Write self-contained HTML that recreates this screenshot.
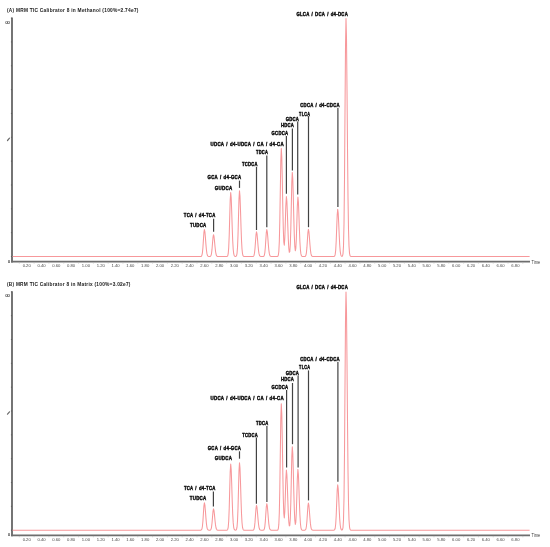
<!DOCTYPE html><html><head><meta charset="utf-8"><style>html,body{margin:0;padding:0;background:#fff;}svg{display:block;}text{font-family:"Liberation Sans",sans-serif;}</style></head><body>
<svg width="550" height="547" viewBox="0 0 550 547">
<defs><filter id="tb" x="-5%" y="-50%" width="110%" height="200%"><feGaussianBlur stdDeviation="0.2"/></filter></defs>
<rect width="550" height="547" fill="#fff"/>
<path d="M12.0 17.50 V262.50" fill="none" stroke="#6e6e6e" stroke-width="1.9"/>
<path d="M11.05 261.70 H530" fill="none" stroke="#6e6e6e" stroke-width="1.7"/>
<path fill="none" stroke="#f7989b" stroke-width="1.05" stroke-linejoin="round" d="M12.6 256.50 L199.40 256.50 L199.90 256.50 L200.40 256.49 L200.90 256.44 L201.40 256.20 L201.90 255.31 L202.40 252.85 L202.90 247.73 L203.40 240.12 L203.90 232.67 L204.40 229.50 L204.90 231.74 L205.40 237.42 L205.90 244.14 L206.40 249.77 L206.90 253.42 L207.40 255.31 L207.90 256.12 L208.40 256.40 L208.90 256.48 L209.40 256.49 L210.00 256.45 L210.50 256.26 L211.00 255.54 L211.50 253.55 L212.00 249.42 L212.50 243.28 L213.00 237.26 L213.50 234.70 L214.00 236.51 L214.50 241.10 L215.00 246.52 L215.50 251.06 L216.00 254.01 L216.50 255.54 L217.00 256.19 L217.50 256.42 L218.00 256.48 L218.50 256.50 L225.70 256.50 L226.20 256.50 L226.70 256.48 L227.20 256.36 L227.70 255.79 L228.20 253.69 L228.70 247.84 L229.20 235.72 L229.70 217.68 L230.20 200.02 L230.70 192.50 L231.20 197.82 L231.70 211.27 L232.20 227.20 L232.70 240.54 L233.20 249.19 L233.70 253.69 L234.20 255.59 L234.50 256.07 L235.00 256.39 L235.50 256.46 L236.00 256.35 L236.50 255.77 L237.00 253.61 L237.50 247.61 L238.00 235.17 L238.50 216.65 L239.00 198.52 L239.50 190.80 L240.00 196.26 L240.50 210.07 L241.00 226.42 L241.50 240.12 L242.00 249.00 L242.50 253.61 L243.00 255.57 L243.50 256.25 L244.00 256.44 L244.50 256.49 L251.50 256.50 L252.00 256.50 L252.50 256.49 L253.00 256.45 L253.50 256.23 L254.00 255.41 L254.50 253.16 L255.00 248.48 L255.50 241.52 L256.00 234.70 L256.50 231.80 L257.00 233.85 L257.50 239.05 L258.00 245.19 L258.50 250.34 L259.00 253.68 L259.50 255.41 L260.00 256.15 L260.50 256.40 L261.00 256.48 L261.50 256.50 L261.80 256.50 L262.30 256.50 L262.80 256.49 L263.30 256.44 L263.80 256.20 L264.30 255.31 L264.80 252.85 L265.30 247.73 L265.80 240.12 L266.30 232.67 L266.80 229.50 L267.30 231.74 L267.80 237.42 L268.30 244.14 L268.80 249.77 L269.30 253.42 L269.80 255.31 L270.30 256.12 L270.80 256.40 L271.30 256.48 L271.80 256.50 L276.30 256.50 L276.80 256.50 L277.30 256.46 L277.80 256.26 L278.30 255.30 L278.80 251.75 L279.30 241.87 L279.80 221.41 L280.30 190.93 L280.80 161.10 L281.30 148.40 L281.80 157.39 L282.30 180.10 L282.80 206.92 L283.30 229.05 L283.80 242.12 L284.30 245.14 L284.80 238.28 L285.30 223.32 L285.80 206.29 L286.40 196.49 L286.90 201.49 L287.30 211.21 L287.80 226.12 L288.30 239.34 L288.80 248.20 L289.30 252.33 L289.80 251.72 L290.30 244.81 L290.80 229.12 L291.30 205.48 L291.80 182.28 L292.30 172.40 L292.80 179.39 L293.30 197.07 L293.80 217.98 L294.30 235.44 L294.80 246.41 L295.30 250.78 L295.80 248.74 L296.30 239.63 L296.80 223.93 L297.30 206.79 L297.90 197.00 L298.40 201.95 L298.90 214.45 L299.40 229.26 L299.90 241.66 L300.40 249.71 L300.90 253.89 L301.40 255.65 L301.90 256.27 L302.40 256.45 L302.90 256.49 L303.40 256.50 L303.90 256.50 L304.40 256.49 L304.90 256.44 L305.40 256.20 L305.90 255.30 L306.40 252.82 L306.90 247.67 L307.40 240.00 L307.90 232.50 L308.40 229.30 L308.90 231.56 L309.40 237.28 L309.90 244.05 L310.40 249.72 L310.90 253.39 L311.40 255.30 L311.90 256.11 L312.40 256.39 L312.90 256.48 L313.40 256.50 L332.70 256.50 L333.20 256.50 L333.70 256.48 L334.20 256.40 L334.70 255.97 L335.20 254.42 L335.70 250.10 L336.20 241.14 L336.70 227.81 L337.20 214.76 L337.70 209.20 L338.20 213.13 L338.70 223.08 L339.20 234.84 L339.70 244.71 L340.20 251.10 L340.70 254.42 L341.00 255.42 L341.50 256.18 L342.00 256.34 L342.50 255.96 L343.00 253.85 L343.50 246.05 L344.00 224.30 L344.50 179.27 L345.00 112.21 L345.50 46.55 L346.00 18.60 L346.50 38.38 L347.00 88.39 L347.50 147.58 L348.00 197.18 L348.50 229.34 L349.00 246.05 L349.50 253.12 L350.00 255.58 L350.50 256.29 L351.00 256.46 L529.6 256.50"/>
<path d="M10.9 256.50 H11.9 M10.9 232.66 H11.9 M10.9 208.82 H11.9 M10.9 184.98 H11.9 M10.9 161.14 H11.9 M10.9 137.30 H11.9 M10.9 113.46 H11.9 M10.9 89.62 H11.9 M10.9 65.78 H11.9 M10.9 41.94 H11.9 M10.9 18.10 H11.9" stroke="#4a4a4a" stroke-width="0.6"/>
<path d="M7.5 140.50 L9.5 138.10" stroke="#6a6a6a" stroke-width="1.2" stroke-linecap="round"/>
<path d="M19.30 262.20 V263.60 M34.11 262.20 V263.60 M48.92 262.20 V263.60 M63.73 262.20 V263.60 M78.55 262.20 V263.60 M93.36 262.20 V263.60 M108.17 262.20 V263.60 M122.98 262.20 V263.60 M137.78 262.20 V263.60 M152.59 262.20 V263.60 M167.41 262.20 V263.60 M182.22 262.20 V263.60 M197.03 262.20 V263.60 M211.84 262.20 V263.60 M226.64 262.20 V263.60 M241.45 262.20 V263.60 M256.26 262.20 V263.60 M271.07 262.20 V263.60 M285.88 262.20 V263.60 M300.69 262.20 V263.60 M315.50 262.20 V263.60 M330.31 262.20 V263.60 M345.12 262.20 V263.60 M359.93 262.20 V263.60 M374.74 262.20 V263.60 M389.55 262.20 V263.60 M404.36 262.20 V263.60 M419.17 262.20 V263.60 M433.98 262.20 V263.60 M448.79 262.20 V263.60 M463.61 262.20 V263.60 M478.41 262.20 V263.60 M493.22 262.20 V263.60 M508.03 262.20 V263.60 M522.85 262.20 V263.60" stroke="#b8b8b8" stroke-width="0.6"/>
<path d="M213.60 218.80 V231.80" stroke="#424242" stroke-width="1.2"/>
<path d="M239.50 180.60 V187.90" stroke="#424242" stroke-width="1.2"/>
<path d="M256.50 166.90 V230.00" stroke="#424242" stroke-width="1.2"/>
<path d="M266.80 155.50 V227.30" stroke="#424242" stroke-width="1.2"/>
<path d="M286.40 136.00 V193.80" stroke="#424242" stroke-width="1.2"/>
<path d="M292.40 128.50 V170.60" stroke="#424242" stroke-width="1.2"/>
<path d="M297.70 121.50 V194.50" stroke="#424242" stroke-width="1.2"/>
<path d="M308.50 116.10 V227.20" stroke="#424242" stroke-width="1.2"/>
<path d="M337.90 108.10 V207.00" stroke="#424242" stroke-width="1.2"/>
<path d="M12.0 291.20 V536.20" fill="none" stroke="#6e6e6e" stroke-width="1.9"/>
<path d="M11.05 535.40 H530" fill="none" stroke="#6e6e6e" stroke-width="1.7"/>
<path fill="none" stroke="#f7989b" stroke-width="1.05" stroke-linejoin="round" d="M12.6 530.20 L199.40 530.20 L199.90 530.20 L200.40 530.19 L200.90 530.14 L201.40 529.90 L201.90 529.00 L202.40 526.49 L202.90 521.30 L203.40 513.58 L203.90 506.02 L204.40 502.80 L204.90 505.08 L205.40 510.84 L205.90 517.66 L206.40 523.37 L206.90 527.07 L207.40 529.00 L207.90 529.81 L208.40 530.09 L208.90 530.18 L209.40 530.19 L210.00 530.15 L210.50 529.96 L211.00 529.26 L211.50 527.32 L212.00 523.28 L212.50 517.28 L213.00 511.40 L213.50 508.90 L214.00 510.67 L214.50 515.15 L215.00 520.45 L215.50 524.89 L216.00 527.77 L216.50 529.26 L217.00 529.90 L217.50 530.12 L218.00 530.18 L218.50 530.20 L225.70 530.20 L226.20 530.20 L226.70 530.18 L227.20 530.06 L227.70 529.47 L228.20 527.30 L228.70 521.25 L229.20 508.74 L229.70 490.11 L230.20 471.87 L230.70 464.10 L231.20 469.60 L231.70 483.49 L232.20 499.94 L232.70 513.72 L233.20 522.65 L233.70 527.30 L234.20 529.26 L234.50 529.76 L235.00 530.09 L235.50 530.16 L236.00 530.05 L236.50 529.45 L237.00 527.24 L237.50 521.08 L238.00 508.32 L238.50 489.32 L239.00 470.72 L239.50 462.80 L240.00 468.40 L240.50 482.57 L241.00 499.34 L241.50 513.39 L242.00 522.51 L242.50 527.24 L243.00 529.24 L243.50 529.94 L244.00 530.14 L244.50 530.19 L251.50 530.20 L252.00 530.20 L252.50 530.19 L253.00 530.15 L253.50 529.92 L254.00 529.11 L254.50 526.84 L255.00 522.15 L255.50 515.16 L256.00 508.31 L256.50 505.40 L257.00 507.46 L257.50 512.68 L258.00 518.85 L258.50 524.02 L259.00 527.37 L259.50 529.11 L260.00 529.85 L260.50 530.10 L261.00 530.18 L261.50 530.20 L261.80 530.20 L262.30 530.20 L262.80 530.19 L263.30 530.14 L263.80 529.91 L264.30 529.04 L264.80 526.61 L265.30 521.60 L265.80 514.13 L266.30 506.81 L266.80 503.70 L267.30 505.90 L267.80 511.47 L268.30 518.07 L268.80 523.59 L269.30 527.17 L269.80 529.04 L270.30 529.82 L270.80 530.10 L271.30 530.18 L271.80 530.20 L276.30 530.20 L276.80 530.19 L277.30 530.16 L277.80 529.92 L278.30 528.80 L278.80 524.65 L279.30 513.09 L279.80 489.16 L280.30 453.53 L280.80 418.65 L281.30 403.80 L281.80 414.31 L282.30 440.87 L282.80 472.24 L283.30 498.19 L283.80 513.72 L284.30 518.02 L284.80 511.69 L285.30 496.89 L285.80 479.89 L286.40 470.08 L286.90 475.09 L287.30 484.83 L287.80 499.77 L288.30 513.01 L288.80 521.88 L289.30 526.03 L289.80 525.45 L290.30 518.59 L290.80 503.02 L291.30 479.54 L291.80 456.51 L292.30 446.70 L292.80 453.64 L293.30 471.19 L293.80 491.96 L294.30 509.29 L294.80 520.17 L295.30 524.46 L295.80 522.31 L296.30 512.97 L296.80 496.92 L297.30 479.40 L297.90 469.40 L298.40 474.45 L298.90 487.24 L299.40 502.36 L299.90 515.04 L300.40 523.26 L300.90 527.53 L301.40 529.34 L301.90 529.96 L302.40 530.15 L302.90 530.19 L303.40 530.20 L303.90 530.20 L304.40 530.19 L304.90 530.14 L305.40 529.90 L305.90 529.00 L306.40 526.52 L306.90 521.37 L307.40 513.70 L307.90 506.20 L308.40 503.00 L308.90 505.26 L309.40 510.98 L309.90 517.75 L310.40 523.42 L310.90 527.09 L311.40 529.00 L311.90 529.81 L312.40 530.09 L312.90 530.18 L313.40 530.20 L332.70 530.20 L333.20 530.20 L333.70 530.18 L334.20 530.10 L334.70 529.70 L335.20 528.21 L335.70 524.06 L336.20 515.46 L336.70 502.66 L337.20 490.13 L337.70 484.80 L338.20 488.57 L338.70 498.12 L339.20 509.41 L339.70 518.88 L340.20 525.02 L340.70 528.21 L341.00 529.16 L341.50 529.89 L342.00 530.05 L342.50 529.66 L343.00 527.55 L343.50 519.73 L344.00 497.96 L344.50 452.87 L345.00 385.72 L345.50 319.99 L346.00 292.00 L346.50 311.81 L347.00 361.88 L347.50 421.14 L348.00 470.80 L348.50 503.01 L349.00 519.73 L349.50 526.81 L350.00 529.28 L350.50 529.99 L351.00 530.16 L529.6 530.20"/>
<path d="M10.9 530.20 H11.9 M10.9 506.36 H11.9 M10.9 482.52 H11.9 M10.9 458.68 H11.9 M10.9 434.84 H11.9 M10.9 411.00 H11.9 M10.9 387.16 H11.9 M10.9 363.32 H11.9 M10.9 339.48 H11.9 M10.9 315.64 H11.9 M10.9 291.80 H11.9" stroke="#4a4a4a" stroke-width="0.6"/>
<path d="M7.5 414.20 L9.5 411.80" stroke="#6a6a6a" stroke-width="1.2" stroke-linecap="round"/>
<path d="M19.30 535.90 V537.30 M34.11 535.90 V537.30 M48.92 535.90 V537.30 M63.73 535.90 V537.30 M78.55 535.90 V537.30 M93.36 535.90 V537.30 M108.17 535.90 V537.30 M122.98 535.90 V537.30 M137.78 535.90 V537.30 M152.59 535.90 V537.30 M167.41 535.90 V537.30 M182.22 535.90 V537.30 M197.03 535.90 V537.30 M211.84 535.90 V537.30 M226.64 535.90 V537.30 M241.45 535.90 V537.30 M256.26 535.90 V537.30 M271.07 535.90 V537.30 M285.88 535.90 V537.30 M300.69 535.90 V537.30 M315.50 535.90 V537.30 M330.31 535.90 V537.30 M345.12 535.90 V537.30 M359.93 535.90 V537.30 M374.74 535.90 V537.30 M389.55 535.90 V537.30 M404.36 535.90 V537.30 M419.17 535.90 V537.30 M433.98 535.90 V537.30 M448.79 535.90 V537.30 M463.61 535.90 V537.30 M478.41 535.90 V537.30 M493.22 535.90 V537.30 M508.03 535.90 V537.30 M522.85 535.90 V537.30" stroke="#b8b8b8" stroke-width="0.6"/>
<path d="M213.40 491.50 V506.40" stroke="#424242" stroke-width="1.2"/>
<path d="M239.50 451.30 V458.70" stroke="#424242" stroke-width="1.2"/>
<path d="M256.40 437.60 V503.70" stroke="#424242" stroke-width="1.2"/>
<path d="M266.90 426.10 V502.00" stroke="#424242" stroke-width="1.2"/>
<path d="M286.60 390.00 V467.50" stroke="#424242" stroke-width="1.2"/>
<path d="M292.50 383.00 V444.20" stroke="#424242" stroke-width="1.2"/>
<path d="M298.10 375.60 V467.50" stroke="#424242" stroke-width="1.2"/>
<path d="M308.50 370.40 V500.40" stroke="#424242" stroke-width="1.2"/>
<path d="M337.90 361.90 V481.70" stroke="#424242" stroke-width="1.2"/>
<g filter="url(#tb)">
<text x="6.9" y="12.40" font-size="5.6" letter-spacing="0.3" font-weight="bold" fill="#1e1e1e" stroke="#1e1e1e" stroke-width="0.02" textLength="131.8" lengthAdjust="spacingAndGlyphs">(A) MRM TIC Calibrator 8 in Methanol (100%=2.74e7)</text>
<text x="7.5" y="23.60" font-size="3.8" fill="#444" stroke="#444" stroke-width="0.15" text-anchor="middle">00</text>
<text x="9" y="262.70" font-size="3.8" fill="#444" stroke="#444" stroke-width="0.15" text-anchor="middle">0</text>
<text x="26.71" y="267.00" font-size="4.2" fill="#4a4a4a" text-anchor="middle">0.20</text>
<text x="41.52" y="267.00" font-size="4.2" fill="#4a4a4a" text-anchor="middle">0.40</text>
<text x="56.33" y="267.00" font-size="4.2" fill="#4a4a4a" text-anchor="middle">0.60</text>
<text x="71.14" y="267.00" font-size="4.2" fill="#4a4a4a" text-anchor="middle">0.80</text>
<text x="85.95" y="267.00" font-size="4.2" fill="#4a4a4a" text-anchor="middle">1.00</text>
<text x="100.76" y="267.00" font-size="4.2" fill="#4a4a4a" text-anchor="middle">1.20</text>
<text x="115.57" y="267.00" font-size="4.2" fill="#4a4a4a" text-anchor="middle">1.40</text>
<text x="130.38" y="267.00" font-size="4.2" fill="#4a4a4a" text-anchor="middle">1.60</text>
<text x="145.19" y="267.00" font-size="4.2" fill="#4a4a4a" text-anchor="middle">1.80</text>
<text x="160.00" y="267.00" font-size="4.2" fill="#4a4a4a" text-anchor="middle">2.00</text>
<text x="174.81" y="267.00" font-size="4.2" fill="#4a4a4a" text-anchor="middle">2.20</text>
<text x="189.62" y="267.00" font-size="4.2" fill="#4a4a4a" text-anchor="middle">2.40</text>
<text x="204.43" y="267.00" font-size="4.2" fill="#4a4a4a" text-anchor="middle">2.60</text>
<text x="219.24" y="267.00" font-size="4.2" fill="#4a4a4a" text-anchor="middle">2.80</text>
<text x="234.05" y="267.00" font-size="4.2" fill="#4a4a4a" text-anchor="middle">3.00</text>
<text x="248.86" y="267.00" font-size="4.2" fill="#4a4a4a" text-anchor="middle">3.20</text>
<text x="263.67" y="267.00" font-size="4.2" fill="#4a4a4a" text-anchor="middle">3.40</text>
<text x="278.48" y="267.00" font-size="4.2" fill="#4a4a4a" text-anchor="middle">3.60</text>
<text x="293.29" y="267.00" font-size="4.2" fill="#4a4a4a" text-anchor="middle">3.80</text>
<text x="308.10" y="267.00" font-size="4.2" fill="#4a4a4a" text-anchor="middle">4.00</text>
<text x="322.91" y="267.00" font-size="4.2" fill="#4a4a4a" text-anchor="middle">4.20</text>
<text x="337.72" y="267.00" font-size="4.2" fill="#4a4a4a" text-anchor="middle">4.40</text>
<text x="352.53" y="267.00" font-size="4.2" fill="#4a4a4a" text-anchor="middle">4.60</text>
<text x="367.34" y="267.00" font-size="4.2" fill="#4a4a4a" text-anchor="middle">4.80</text>
<text x="382.15" y="267.00" font-size="4.2" fill="#4a4a4a" text-anchor="middle">5.00</text>
<text x="396.96" y="267.00" font-size="4.2" fill="#4a4a4a" text-anchor="middle">5.20</text>
<text x="411.77" y="267.00" font-size="4.2" fill="#4a4a4a" text-anchor="middle">5.40</text>
<text x="426.58" y="267.00" font-size="4.2" fill="#4a4a4a" text-anchor="middle">5.60</text>
<text x="441.39" y="267.00" font-size="4.2" fill="#4a4a4a" text-anchor="middle">5.80</text>
<text x="456.20" y="267.00" font-size="4.2" fill="#4a4a4a" text-anchor="middle">6.00</text>
<text x="471.01" y="267.00" font-size="4.2" fill="#4a4a4a" text-anchor="middle">6.20</text>
<text x="485.82" y="267.00" font-size="4.2" fill="#4a4a4a" text-anchor="middle">6.40</text>
<text x="500.63" y="267.00" font-size="4.2" fill="#4a4a4a" text-anchor="middle">6.60</text>
<text x="515.44" y="267.00" font-size="4.2" fill="#4a4a4a" text-anchor="middle">6.80</text>
<text x="531.6" y="263.70" font-size="4.5" fill="#3a3a3a" textLength="8.5" lengthAdjust="spacingAndGlyphs">Time</text>
<text x="206.50" y="226.90" font-size="5.8" word-spacing="0.9" letter-spacing="0.35" font-weight="bold" fill="#0a0a0a" stroke="#0a0a0a" stroke-width="0.45" text-anchor="end" textLength="16.50" lengthAdjust="spacingAndGlyphs">TUDCA</text>
<text x="215.50" y="217.20" font-size="5.8" word-spacing="0.9" letter-spacing="0.35" font-weight="bold" fill="#0a0a0a" stroke="#0a0a0a" stroke-width="0.45" text-anchor="end" textLength="31.70" lengthAdjust="spacingAndGlyphs">TCA / d4-TCA</text>
<text x="232.40" y="189.70" font-size="5.8" word-spacing="0.9" letter-spacing="0.35" font-weight="bold" fill="#0a0a0a" stroke="#0a0a0a" stroke-width="0.45" text-anchor="end" textLength="17.60" lengthAdjust="spacingAndGlyphs">GUDCA</text>
<text x="241.40" y="179.00" font-size="5.8" word-spacing="0.9" letter-spacing="0.35" font-weight="bold" fill="#0a0a0a" stroke="#0a0a0a" stroke-width="0.45" text-anchor="end" textLength="33.90" lengthAdjust="spacingAndGlyphs">GCA / d4-GCA</text>
<text x="257.70" y="165.90" font-size="5.8" word-spacing="0.9" letter-spacing="0.35" font-weight="bold" fill="#0a0a0a" stroke="#0a0a0a" stroke-width="0.45" text-anchor="end" textLength="15.60" lengthAdjust="spacingAndGlyphs">TCDCA</text>
<text x="268.00" y="154.40" font-size="5.8" word-spacing="0.9" letter-spacing="0.35" font-weight="bold" fill="#0a0a0a" stroke="#0a0a0a" stroke-width="0.45" text-anchor="end" textLength="12.00" lengthAdjust="spacingAndGlyphs">TDCA</text>
<text x="283.90" y="146.20" font-size="5.8" word-spacing="0.9" letter-spacing="0.35" font-weight="bold" fill="#0a0a0a" stroke="#0a0a0a" stroke-width="0.45" text-anchor="end" textLength="73.40" lengthAdjust="spacingAndGlyphs">UDCA / d4-UDCA / CA / d4-CA</text>
<text x="288.30" y="135.10" font-size="5.8" word-spacing="0.9" letter-spacing="0.35" font-weight="bold" fill="#0a0a0a" stroke="#0a0a0a" stroke-width="0.45" text-anchor="end" textLength="16.70" lengthAdjust="spacingAndGlyphs">GCDCA</text>
<text x="294.10" y="127.40" font-size="5.8" word-spacing="0.9" letter-spacing="0.35" font-weight="bold" fill="#0a0a0a" stroke="#0a0a0a" stroke-width="0.45" text-anchor="end" textLength="13.20" lengthAdjust="spacingAndGlyphs">HDCA</text>
<text x="299.20" y="120.60" font-size="5.8" word-spacing="0.9" letter-spacing="0.35" font-weight="bold" fill="#0a0a0a" stroke="#0a0a0a" stroke-width="0.45" text-anchor="end" textLength="13.50" lengthAdjust="spacingAndGlyphs">GDCA</text>
<text x="310.10" y="115.50" font-size="5.8" word-spacing="0.9" letter-spacing="0.35" font-weight="bold" fill="#0a0a0a" stroke="#0a0a0a" stroke-width="0.45" text-anchor="end" textLength="11.00" lengthAdjust="spacingAndGlyphs">TLCA</text>
<text x="339.90" y="107.00" font-size="5.8" word-spacing="0.9" letter-spacing="0.35" font-weight="bold" fill="#0a0a0a" stroke="#0a0a0a" stroke-width="0.45" text-anchor="end" textLength="39.70" lengthAdjust="spacingAndGlyphs">CDCA / d4-CDCA</text>
<text x="348.00" y="15.80" font-size="5.8" word-spacing="0.9" letter-spacing="0.35" font-weight="bold" fill="#0a0a0a" stroke="#0a0a0a" stroke-width="0.45" text-anchor="end" textLength="51.60" lengthAdjust="spacingAndGlyphs">GLCA / DCA / d4-DCA</text>
<text x="6.9" y="285.80" font-size="5.6" letter-spacing="0.3" font-weight="bold" fill="#1e1e1e" stroke="#1e1e1e" stroke-width="0.02" textLength="123.8" lengthAdjust="spacingAndGlyphs">(B) MRM TIC Calibrator 8 in Matrix (100%=3.02e7)</text>
<text x="7.5" y="297.30" font-size="3.8" fill="#444" stroke="#444" stroke-width="0.15" text-anchor="middle">00</text>
<text x="9" y="536.40" font-size="3.8" fill="#444" stroke="#444" stroke-width="0.15" text-anchor="middle">0</text>
<text x="26.71" y="540.70" font-size="4.2" fill="#4a4a4a" text-anchor="middle">0.20</text>
<text x="41.52" y="540.70" font-size="4.2" fill="#4a4a4a" text-anchor="middle">0.40</text>
<text x="56.33" y="540.70" font-size="4.2" fill="#4a4a4a" text-anchor="middle">0.60</text>
<text x="71.14" y="540.70" font-size="4.2" fill="#4a4a4a" text-anchor="middle">0.80</text>
<text x="85.95" y="540.70" font-size="4.2" fill="#4a4a4a" text-anchor="middle">1.00</text>
<text x="100.76" y="540.70" font-size="4.2" fill="#4a4a4a" text-anchor="middle">1.20</text>
<text x="115.57" y="540.70" font-size="4.2" fill="#4a4a4a" text-anchor="middle">1.40</text>
<text x="130.38" y="540.70" font-size="4.2" fill="#4a4a4a" text-anchor="middle">1.60</text>
<text x="145.19" y="540.70" font-size="4.2" fill="#4a4a4a" text-anchor="middle">1.80</text>
<text x="160.00" y="540.70" font-size="4.2" fill="#4a4a4a" text-anchor="middle">2.00</text>
<text x="174.81" y="540.70" font-size="4.2" fill="#4a4a4a" text-anchor="middle">2.20</text>
<text x="189.62" y="540.70" font-size="4.2" fill="#4a4a4a" text-anchor="middle">2.40</text>
<text x="204.43" y="540.70" font-size="4.2" fill="#4a4a4a" text-anchor="middle">2.60</text>
<text x="219.24" y="540.70" font-size="4.2" fill="#4a4a4a" text-anchor="middle">2.80</text>
<text x="234.05" y="540.70" font-size="4.2" fill="#4a4a4a" text-anchor="middle">3.00</text>
<text x="248.86" y="540.70" font-size="4.2" fill="#4a4a4a" text-anchor="middle">3.20</text>
<text x="263.67" y="540.70" font-size="4.2" fill="#4a4a4a" text-anchor="middle">3.40</text>
<text x="278.48" y="540.70" font-size="4.2" fill="#4a4a4a" text-anchor="middle">3.60</text>
<text x="293.29" y="540.70" font-size="4.2" fill="#4a4a4a" text-anchor="middle">3.80</text>
<text x="308.10" y="540.70" font-size="4.2" fill="#4a4a4a" text-anchor="middle">4.00</text>
<text x="322.91" y="540.70" font-size="4.2" fill="#4a4a4a" text-anchor="middle">4.20</text>
<text x="337.72" y="540.70" font-size="4.2" fill="#4a4a4a" text-anchor="middle">4.40</text>
<text x="352.53" y="540.70" font-size="4.2" fill="#4a4a4a" text-anchor="middle">4.60</text>
<text x="367.34" y="540.70" font-size="4.2" fill="#4a4a4a" text-anchor="middle">4.80</text>
<text x="382.15" y="540.70" font-size="4.2" fill="#4a4a4a" text-anchor="middle">5.00</text>
<text x="396.96" y="540.70" font-size="4.2" fill="#4a4a4a" text-anchor="middle">5.20</text>
<text x="411.77" y="540.70" font-size="4.2" fill="#4a4a4a" text-anchor="middle">5.40</text>
<text x="426.58" y="540.70" font-size="4.2" fill="#4a4a4a" text-anchor="middle">5.60</text>
<text x="441.39" y="540.70" font-size="4.2" fill="#4a4a4a" text-anchor="middle">5.80</text>
<text x="456.20" y="540.70" font-size="4.2" fill="#4a4a4a" text-anchor="middle">6.00</text>
<text x="471.01" y="540.70" font-size="4.2" fill="#4a4a4a" text-anchor="middle">6.20</text>
<text x="485.82" y="540.70" font-size="4.2" fill="#4a4a4a" text-anchor="middle">6.40</text>
<text x="500.63" y="540.70" font-size="4.2" fill="#4a4a4a" text-anchor="middle">6.60</text>
<text x="515.44" y="540.70" font-size="4.2" fill="#4a4a4a" text-anchor="middle">6.80</text>
<text x="531.6" y="537.40" font-size="4.5" fill="#3a3a3a" textLength="8.5" lengthAdjust="spacingAndGlyphs">Time</text>
<text x="206.50" y="500.00" font-size="5.8" word-spacing="0.9" letter-spacing="0.35" font-weight="bold" fill="#0a0a0a" stroke="#0a0a0a" stroke-width="0.45" text-anchor="end" textLength="16.70" lengthAdjust="spacingAndGlyphs">TUDCA</text>
<text x="215.60" y="490.10" font-size="5.8" word-spacing="0.9" letter-spacing="0.35" font-weight="bold" fill="#0a0a0a" stroke="#0a0a0a" stroke-width="0.45" text-anchor="end" textLength="31.70" lengthAdjust="spacingAndGlyphs">TCA / d4-TCA</text>
<text x="232.20" y="460.40" font-size="5.8" word-spacing="0.9" letter-spacing="0.35" font-weight="bold" fill="#0a0a0a" stroke="#0a0a0a" stroke-width="0.45" text-anchor="end" textLength="17.50" lengthAdjust="spacingAndGlyphs">GUDCA</text>
<text x="241.20" y="449.90" font-size="5.8" word-spacing="0.9" letter-spacing="0.35" font-weight="bold" fill="#0a0a0a" stroke="#0a0a0a" stroke-width="0.45" text-anchor="end" textLength="33.50" lengthAdjust="spacingAndGlyphs">GCA / d4-GCA</text>
<text x="257.90" y="436.70" font-size="5.8" word-spacing="0.9" letter-spacing="0.35" font-weight="bold" fill="#0a0a0a" stroke="#0a0a0a" stroke-width="0.45" text-anchor="end" textLength="15.70" lengthAdjust="spacingAndGlyphs">TCDCA</text>
<text x="268.40" y="425.00" font-size="5.8" word-spacing="0.9" letter-spacing="0.35" font-weight="bold" fill="#0a0a0a" stroke="#0a0a0a" stroke-width="0.45" text-anchor="end" textLength="12.40" lengthAdjust="spacingAndGlyphs">TDCA</text>
<text x="283.90" y="400.20" font-size="5.8" word-spacing="0.9" letter-spacing="0.35" font-weight="bold" fill="#0a0a0a" stroke="#0a0a0a" stroke-width="0.45" text-anchor="end" textLength="73.40" lengthAdjust="spacingAndGlyphs">UDCA / d4-UDCA / CA / d4-CA</text>
<text x="288.30" y="389.10" font-size="5.8" word-spacing="0.9" letter-spacing="0.35" font-weight="bold" fill="#0a0a0a" stroke="#0a0a0a" stroke-width="0.45" text-anchor="end" textLength="16.70" lengthAdjust="spacingAndGlyphs">GCDCA</text>
<text x="294.10" y="381.10" font-size="5.8" word-spacing="0.9" letter-spacing="0.35" font-weight="bold" fill="#0a0a0a" stroke="#0a0a0a" stroke-width="0.45" text-anchor="end" textLength="13.20" lengthAdjust="spacingAndGlyphs">HDCA</text>
<text x="299.20" y="374.50" font-size="5.8" word-spacing="0.9" letter-spacing="0.35" font-weight="bold" fill="#0a0a0a" stroke="#0a0a0a" stroke-width="0.45" text-anchor="end" textLength="13.50" lengthAdjust="spacingAndGlyphs">GDCA</text>
<text x="310.10" y="369.40" font-size="5.8" word-spacing="0.9" letter-spacing="0.35" font-weight="bold" fill="#0a0a0a" stroke="#0a0a0a" stroke-width="0.45" text-anchor="end" textLength="11.00" lengthAdjust="spacingAndGlyphs">TLCA</text>
<text x="339.90" y="360.70" font-size="5.8" word-spacing="0.9" letter-spacing="0.35" font-weight="bold" fill="#0a0a0a" stroke="#0a0a0a" stroke-width="0.45" text-anchor="end" textLength="39.70" lengthAdjust="spacingAndGlyphs">CDCA / d4-CDCA</text>
<text x="348.00" y="289.20" font-size="5.8" word-spacing="0.9" letter-spacing="0.35" font-weight="bold" fill="#0a0a0a" stroke="#0a0a0a" stroke-width="0.45" text-anchor="end" textLength="51.60" lengthAdjust="spacingAndGlyphs">GLCA / DCA / d4-DCA</text>
</g>
</svg></body></html>
